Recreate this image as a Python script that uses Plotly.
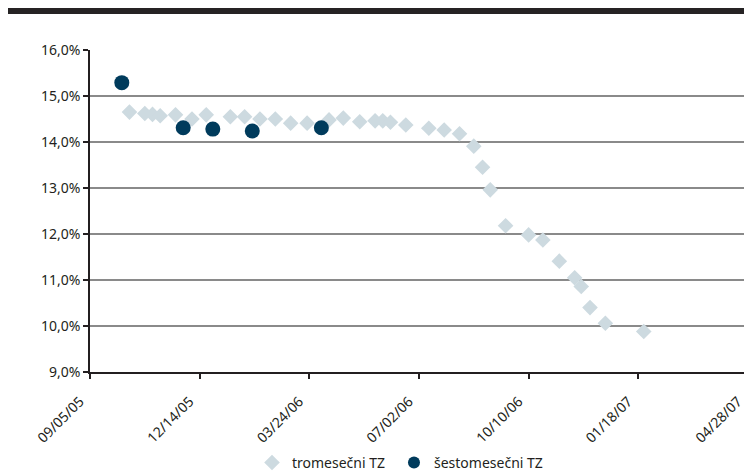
import plotly.graph_objects as go

# tromesečni TZ (3-month T-bills)
tri_dates = ["2005-10-11", "2005-10-25", "2005-11-01", "2005-11-08", "2005-11-22",
             "2005-12-07", "2005-12-20", "2006-01-11", "2006-01-24", "2006-02-07",
             "2006-02-21", "2006-03-07", "2006-03-22", "2006-04-11", "2006-04-24",
             "2006-05-09", "2006-05-23", "2006-05-30", "2006-06-06", "2006-06-20",
             "2006-07-11", "2006-07-25", "2006-08-08", "2006-08-21", "2006-08-29",
             "2006-09-05", "2006-09-19", "2006-10-10", "2006-10-23", "2006-11-07",
             "2006-11-21", "2006-11-27", "2006-12-05", "2006-12-19", "2007-01-23"]
tri_values = [14.65, 14.62, 14.60, 14.57, 14.59, 14.50, 14.59, 14.55, 14.55, 14.50,
              14.50, 14.41, 14.41, 14.48, 14.52, 14.44, 14.46, 14.46, 14.43, 14.37,
              14.30, 14.26, 14.18, 13.91, 13.45, 12.96, 12.18, 11.98, 11.87, 11.41,
              11.05, 10.86, 10.40, 10.06, 9.88]

# šestomesečni TZ (6-month T-bills)
six_dates = ["2005-10-04", "2005-11-29", "2005-12-26", "2006-01-31", "2006-04-04"]
six_values = [15.29, 14.31, 14.28, 14.24, 14.31]

y_ticks = [9, 10, 11, 12, 13, 14, 15, 16]
y_labels = ["9,0%", "10,0%", "11,0%", "12,0%", "13,0%", "14,0%", "15,0%", "16,0%"]

fig = go.Figure()
fig.add_trace(go.Scatter(
    x=tri_dates, y=tri_values, mode="markers", name="tromesečni TZ",
    marker=dict(symbol="diamond", size=12, color="#cddae0"), legend="legend",
))
fig.add_trace(go.Scatter(
    x=six_dates, y=six_values, mode="markers", name="šestomesečni TZ",
    marker=dict(symbol="circle", size=15, color="#003b5c"), legend="legend2",
))

font_color = "#231f20"
tick_font = dict(family="Noto Sans", size=14, color=font_color)
leg_common = dict(orientation="h", xref="paper", xanchor="left",
                  yref="container", y=0.026, yanchor="middle",
                  bgcolor="rgba(0,0,0,0)", font=dict(size=14, color=font_color),
                  itemsizing="constant")
fig.update_layout(
    width=744, height=467,
    margin=dict(l=82, r=4, t=42, b=103),
    paper_bgcolor="white", plot_bgcolor="white",
    font=dict(family="Noto Sans", size=14, color=font_color),
    showlegend=True,
    legend=dict(x=0.2462, **leg_common),
    legend2=dict(x=0.462, **leg_common),
    shapes=[dict(type="rect", xref="paper", yref="paper",
                 x0=-0.13, x1=1.01, y0=1.1118, y1=1.135,
                 fillcolor="#262324", line=dict(width=0), layer="above")],
)
fig.update_xaxes(
    type="date", automargin=False,
    range=["2005-09-05", "2007-04-28 02:00"],
    tick0="2005-09-05", dtick=100 * 86400000,
    tickformat="%m/%d/%y", tickangle=-45, tickfont=tick_font,
    ticklabelstandoff=9, ticklabelshift=-10, ticklabeloverflow="allow",
    showgrid=False, showline=True, linecolor=font_color, linewidth=1.5,
    ticks="outside", ticklen=5, tickcolor=font_color, tickwidth=1.5,
    zeroline=False,
)
fig.update_yaxes(
    automargin=False,
    range=[9, 16], tickvals=y_ticks, ticktext=y_labels, tickfont=tick_font,
    showgrid=True, gridcolor="#8a8a8a", gridwidth=1.6,
    showline=True, linecolor=font_color, linewidth=1.5,
    ticks="outside", ticklen=5, tickcolor=font_color, tickwidth=1.5,
    zeroline=False,
)

fig.write_html("out.html")
